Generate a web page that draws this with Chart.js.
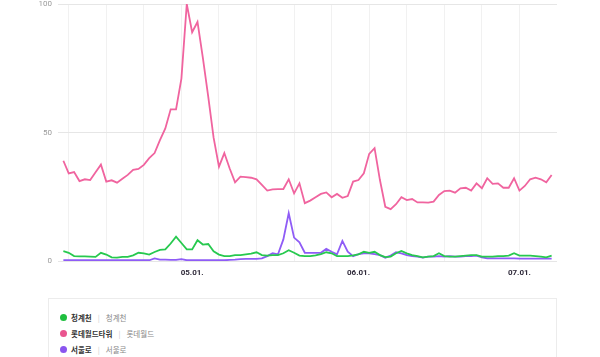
<!DOCTYPE html>
<html>
<head>
<meta charset="utf-8">
<script src="https://cdn.jsdelivr.net/npm/chart.js@4"></script>
<style>
  html, body { margin:0; padding:0; background:#fff; }
  #wrap { position:relative; width:600px; height:357px; overflow:hidden; font-family:"Noto Sans CJK KR","Noto Sans",sans-serif; }
  #c { position:absolute; left:0; top:0; }
  #legend { position:absolute; left:48px; top:298px; width:509px; height:80px; border:1px solid #ececec; box-sizing:border-box; }
  .row { position:absolute; left:11px; height:12px; display:flex; align-items:center; font-size:7.5px; white-space:nowrap; }
  .dot { width:7px; height:7px; border-radius:50%; margin-right:4px; }
  .name { color:#333; font-weight:bold; }
  .sep { color:#ccc; margin:0 6px; }
  .sub { color:#888; }
</style>
</head>
<body>
<div id="wrap">
  <canvas id="c" width="600" height="285"></canvas>
  <div id="legend"></div>
</div>
<script>
const seriesNames = ['청계천', '롯데월드타워', '서울로'];
const seriesSubs = ['청계천', '롯데월드', '서울로'];
const seriesColors = ['#27c94f', '#f0649f', '#8f5cf6'];
const dotColors = ['#1fbf3f', '#e9558f', '#8a55ef'];

const startDate = [2024, 3, 7];
const dayCount = 92;
const monthLabels = ['05.01.', '06.01.', '07.01.'];
const yTicks = [0, 50, 100];

const green = [3.8, 3.2, 1.9, 1.8, 1.8, 1.7, 1.6, 3.2, 2.5, 1.4, 1.3, 1.6, 1.6, 2.2, 3.2, 3.0, 2.5, 3.5, 4.3, 4.5,
  6.8, 9.5, 7.0, 4.5, 4.5, 8.1, 6.4, 6.6, 3.8, 2.5, 1.9,
  1.9, 2.3, 2.3, 2.6, 2.9, 3.4, 2.3, 2.1, 2.3, 2.3, 3.0, 4.2, 3.2, 2.1, 1.9, 1.9, 2.2, 2.7, 3.4, 3.0,
  1.9, 1.9, 1.9, 2.2, 2.6, 3.6, 3.2, 3.6, 2.3, 1.5,
  1.7, 3.0, 3.9, 3.0, 2.3, 1.9, 1.4, 1.7, 1.9, 3.0, 1.9, 1.7, 1.7, 1.9, 2.1, 2.3, 2.3, 1.7, 1.7, 1.7,
  1.9, 1.9, 2.1, 3.0, 2.1, 2.1, 2.1, 1.9, 1.7, 1.4, 2.1];

const pink = [39.0, 34.1, 34.6, 31.1, 31.8, 31.5, 34.5, 37.5, 30.9, 31.4, 30.5, 32.0, 33.5, 35.5, 35.8, 37.4,
  40.0, 42.0, 47.0, 51.6, 59.0, 59.0, 71.0, 100, 89, 93, 79, 64, 48, 36.7,
  42, 36, 30.6, 32.8, 32.6, 32.4, 31.8, 29.6, 27.4, 27.9, 28, 28, 31.8, 26.3, 30.2, 22.5, 23.5, 24.8, 26.1, 26.7,
  24.8, 26.1, 24.6, 25.3, 30.9, 31.5, 34.1, 41.7, 43.9, 31.5, 21.1, 20.2, 22.1, 24.8, 23.7, 24.1, 22.8, 22.8, 22.7, 23.1,
  25.7, 27.2, 27.4, 26.6, 28.3, 28.5, 27.4, 30.2, 28.3, 32.2, 30.0, 30.2, 28.5, 28.5, 32.2, 27.4, 29.2, 31.8, 32.4, 31.8,
  30.6, 33.5];

const purple = [0.3, 0.3, 0.3, 0.3, 0.3, 0.3, 0.3, 0.3, 0.3, 0.3, 0.3, 0.3, 0.3, 0.3, 0.3, 0.3, 0.3, 1.0, 0.5, 0.5,
  0.4, 0.4, 0.7, 0.3, 0.3, 0.3, 0.3, 0.3, 0.3, 0.3, 0.3, 0.4, 0.5, 0.7, 0.8, 0.8, 0.8, 1.0, 1.9, 3.0,
  2.6, 8.4, 18.6, 9.1, 7.3, 3.2, 3.2, 3.2, 3.2, 4.7, 3.6, 2.6, 7.8, 3.6, 1.9, 2.7, 3.0, 3.0, 2.7, 2.3,
  1.3, 2.1, 3.4, 3.0, 2.3, 1.9, 1.7, 1.3, 1.7, 1.7, 1.9, 1.7, 1.9, 1.7, 1.7, 1.9, 1.9, 2.1, 1.4, 1.0,
  1.0, 1.0, 1.0, 1.0, 1.0, 0.9, 0.9, 0.9, 0.9, 0.9, 0.9, 0.9];

// date categories
const dates = [];
for (let i = 0; i < dayCount; i++) {
  const d = new Date(startDate[0], startDate[1], startDate[2] + i);
  const mm = String(d.getMonth() + 1).padStart(2, '0');
  const dd = String(d.getDate()).padStart(2, '0');
  dates.push(mm + '.' + dd + '.');
}
const weekStart = 1;
const weekTicks = [];
for (let i = weekStart; i < dayCount; i += 7) weekTicks.push(i);
const monthTicks = monthLabels.map(l => dates.indexOf(l));
const allTicks = Array.from(new Set(weekTicks.concat(monthTicks))).sort((a, b) => a - b);

const seriesData = [green, pink, purple];
const datasets = seriesData.map((arr, k) => ({
  label: seriesNames[k],
  data: arr.map((v, i) => ({ x: i, y: v })),
  borderColor: seriesColors[k],
  backgroundColor: seriesColors[k],
  borderWidth: 1.8,
  pointRadius: 0,
  tension: 0,
  fill: false
}));

new Chart(document.getElementById('c'), {
  type: 'line',
  data: { datasets },
  options: {
    responsive: false,
    animation: false,
    devicePixelRatio: 1,
    layout: { padding: { left: 0, right: 43, top: 4, bottom: 0 } },
    plugins: { legend: { display: false }, tooltip: { enabled: false } },
    scales: {
      x: {
        type: 'linear',
        min: -1,
        max: dayCount,
        afterBuildTicks: ax => { ax.ticks = allTicks.map(v => ({ value: v })); },
        afterFit: ax => { ax.height = 24; ax.paddingLeft = 0; ax.paddingRight = 0; },
        ticks: {
          autoSkip: false,
          maxRotation: 0,
          padding: 7,
          color: '#2f2a3a',
          font: { size: 8, weight: 'bold', family: 'Roboto, sans-serif' },
          callback: v => monthTicks.includes(v) ? dates[v] : ''
        },
        grid: {
          drawTicks: false,
          color: c => (c.tick && weekTicks.includes(c.tick.value)) ? '#f1f1f1' : 'rgba(0,0,0,0)'
        },
        border: { display: false }
      },
      y: {
        min: 0,
        max: 100,
        afterBuildTicks: ax => { ax.ticks = yTicks.map(v => ({ value: v })); },
        afterFit: ax => { ax.width = 58; ax.paddingTop = 0; ax.paddingBottom = 0; },
        ticks: {
          padding: 6,
          color: '#9a9a9a',
          font: { size: 8, family: 'Roboto, sans-serif' }
        },
        grid: { drawTicks: false, color: '#e6e6e6' },
        border: { display: false }
      }
    }
  }
});

// HTML legend
const legend = document.getElementById('legend');
const rowTops = [12, 28.5, 44.5];
seriesNames.forEach((n, k) => {
  const row = document.createElement('div');
  row.className = 'row';
  row.style.top = rowTops[k] + 'px';
  row.innerHTML = '<span class="dot" style="background:' + dotColors[k] + '"></span>' +
    '<span class="name">' + n + '</span><span class="sep">|</span><span class="sub">' + seriesSubs[k] + '</span>';
  legend.appendChild(row);
});
</script>
</body>
</html>
